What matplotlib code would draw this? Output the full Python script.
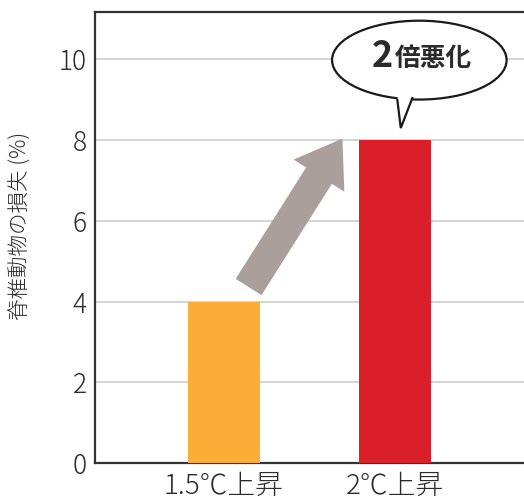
import matplotlib
matplotlib.use("Agg")
import matplotlib.pyplot as plt
from matplotlib.patches import Ellipse, Polygon
from matplotlib.lines import Line2D

plt.rcParams['font.family'] = ['Noto Sans CJK JP', 'DejaVu Sans']

# data
categories = ['1.5℃上昇', '2℃上昇']
values = [4, 8]
bar_colors = ['#fbad36', '#da1f28']
yticks = [0, 2, 4, 6, 8, 10]
ylabel = '脊椎動物の損失 (%)'
callout_num = '2'
callout_txt = '倍悪化'

text_col = '#2b2b2b'

fig = plt.figure(figsize=(5.24, 4.99), dpi=100)
ax = fig.add_axes([95 / 524, 1 - 463.3 / 499, 1 - 95 / 524, (463.3 - 12) / 499])

x = list(range(len(categories)))
ax.bar(x, values, width=0.42, color=bar_colors, zorder=3)

ax.set_xlim(-0.75, 1.75)
ax.set_ylim(0, 11.16)
ax.set_yticks(yticks)
ax.set_xticks(x)
ax.set_xticklabels(categories)
ax.tick_params(axis='y', length=0, labelsize=19, colors=text_col, pad=6)
ax.tick_params(axis='x', length=0, labelsize=20, colors=text_col, pad=6)
for lab in ax.get_yticklabels() + ax.get_xticklabels():
    lab.set_fontweight('light')
ax.yaxis.grid(True, color='#c9c9cc', lw=1.1, zorder=0)
ax.set_axisbelow(True)

for s in ['left', 'top', 'bottom']:
    ax.spines[s].set_color('#333333')
    ax.spines[s].set_linewidth(1.6)
ax.spines['right'].set_visible(False)

ax.set_ylabel(ylabel, fontsize=15.5, color=text_col, fontweight='light')
ax.yaxis.set_label_coords(-0.15, 0.525)

# arrow from orange bar to red bar
ax.annotate('', xy=(0.692, 8.03), xytext=(0.145, 4.36),
            arrowprops=dict(arrowstyle='simple,head_length=1.58,head_width=2.16,tail_width=1.1',
                            mutation_scale=20, fc='#ab9f9b', ec='none',
                            shrinkA=0, shrinkB=0), zorder=4)

# speech bubble
ell = Ellipse((1.14, 9.97), 1.017, 1.95, fc='white', ec='#1a1a1a', lw=1.6, zorder=5)
ax.add_patch(ell)
tail = [(1.012, 8.98), (1.032, 8.29), (1.099, 9.03), (1.09, 9.2), (1.02, 9.2)]
ax.add_patch(Polygon(tail, closed=True, fc='white', ec='none', zorder=6))
ax.add_line(Line2D([1.012, 1.032, 1.099], [8.98, 8.29, 9.03], color='#1a1a1a', lw=1.6,
                   solid_joinstyle='miter', zorder=7))

ax.text(0.985, 10.06, callout_num, ha='right', va='center', fontsize=26,
        fontweight='bold', color=text_col, zorder=8)
ax.text(0.995, 10.0, callout_txt, ha='left', va='center', fontsize=18.5,
        fontweight='bold', color=text_col, zorder=8)

fig.savefig('out.png', dpi=100)
